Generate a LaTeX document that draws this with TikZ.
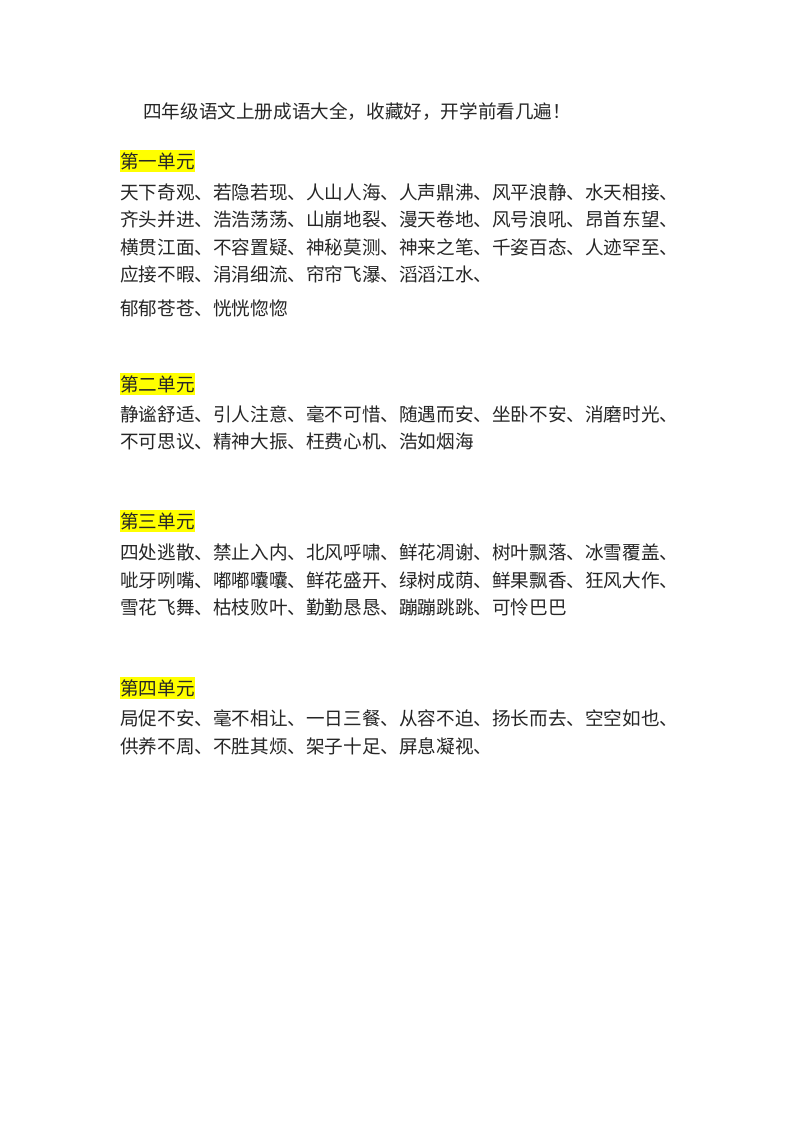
\documentclass[tikz,border=0pt]{standalone}
\usepackage{fontspec}
\newfontfamily\cjk{Noto Sans CJK SC}
\definecolor{hl}{RGB}{255,255,0}
\begin{document}
\begin{tikzpicture}[x=1pt,y=-1pt,
  txt/.style={anchor=west,inner sep=0pt,font=\cjk\fontsize{18.6}{20}\selectfont,text=black!85},
  head/.style={txt,fill=hl,inner ysep=2pt}]
\useasboundingbox[fill=white] (0,0) rectangle (800,1132);
\node[txt] (title) at (143,112) {四年级语文上册成语大全，收藏好，开学前看几遍！};
\node[head] (h1) at (120,161) {第一单元};
\node[txt] (a1) at (120,192) {天下奇观、若隐若现、人山人海、人声鼎沸、风平浪静、水天相接、};
\node[txt] (a2) at (120,219) {齐头并进、浩浩荡荡、山崩地裂、漫天卷地、风号浪吼、昂首东望、};
\node[txt] (a3) at (120,247) {横贯江面、不容置疑、神秘莫测、神来之笔、千姿百态、人迹罕至、};
\node[txt] (a4) at (120,274) {应接不暇、涓涓细流、帘帘飞瀑、滔滔江水、};
\node[txt] (a5) at (120,308) {郁郁苍苍、恍恍惚惚};
\node[head] (h2) at (120,384) {第二单元};
\node[txt] (b1) at (120,414) {静谧舒适、引人注意、毫不可惜、随遇而安、坐卧不安、消磨时光、};
\node[txt] (b2) at (120,441) {不可思议、精神大振、枉费心机、浩如烟海};
\node[head] (h3) at (120,521) {第三单元};
\node[txt] (c1) at (120,552) {四处逃散、禁止入内、北风呼啸、鲜花凋谢、树叶飘落、冰雪覆盖、};
\node[txt] (c2) at (120,580) {呲牙咧嘴、嘟嘟囔囔、鲜花盛开、绿树成荫、鲜果飘香、狂风大作、};
\node[txt] (c3) at (120,607) {雪花飞舞、枯枝败叶、勤勤恳恳、蹦蹦跳跳、可怜巴巴};
\node[head] (h4) at (120,688) {第四单元};
\node[txt] (d1) at (120,718) {局促不安、毫不相让、一日三餐、从容不迫、扬长而去、空空如也、};
\node[txt] (d2) at (120,746) {供养不周、不胜其烦、架子十足、屏息凝视、};
\end{tikzpicture}
\end{document}
